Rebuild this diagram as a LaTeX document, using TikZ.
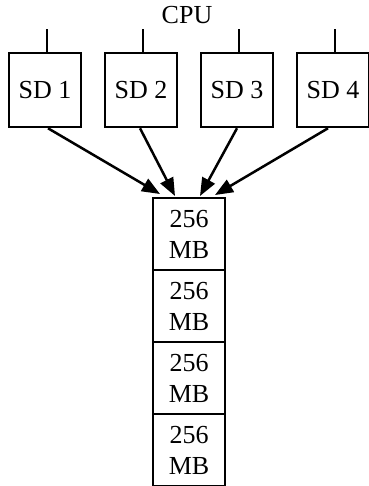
\documentclass[tikz,border=0pt]{standalone}
\usepackage{fontspec}
\setmainfont{Liberation Serif}
\usetikzlibrary{arrows.meta}
\begin{document}
\begin{tikzpicture}[x=1pt,y=-1pt,
  sdbox/.style={draw,line width=2.5pt,minimum width=72pt,minimum height=74pt,inner sep=0pt,font=\fontsize{26}{31}\selectfont},
  membox/.style={draw,line width=2.5pt,minimum width=72pt,minimum height=72pt,inner sep=0pt,align=center,font=\fontsize{26}{31}\selectfont},
  conn/.style={line width=2.5pt,-{Triangle[length=18pt,width=14pt]}},
  tick/.style={line width=2.5pt}]
\useasboundingbox (0,0) rectangle (368,486);
\node[font=\fontsize{26}{31}\selectfont] (cpu) at (187,15) {CPU};
\node[sdbox] (s1) at (45,90) {SD 1};
\node[sdbox] (s2) at (141,90) {SD 2};
\node[sdbox] (s3) at (237,90) {SD 3};
\node[sdbox] (s4) at (333,90) {SD 4};
\foreach \i in {1,2,3,4}{
  \coordinate (t\i) at ([xshift=2pt,yshift=23pt]s\i.north);
  \draw[tick] ([xshift=2pt]s\i.north) -- (t\i);
}
\node[membox] (m1) at (189,234) {256\\MB};
\node[membox] (m2) at (189,306) {256\\MB};
\node[membox] (m3) at (189,378) {256\\MB};
\node[membox] (m4) at (189,450) {256\\MB};
\coordinate (e1) at (160,194);
\coordinate (e2) at (175,196);
\coordinate (e3) at (200,196);
\coordinate (e4) at (215,195);
\draw[conn] ([xshift=3pt]s1.south) -- (e1);
\draw[conn] ([xshift=-1pt]s2.south) -- (e2);
\draw[conn] ([xshift=0pt]s3.south) -- (e3);
\draw[conn] ([xshift=-5pt]s4.south) -- (e4);
\end{tikzpicture}
\end{document}
